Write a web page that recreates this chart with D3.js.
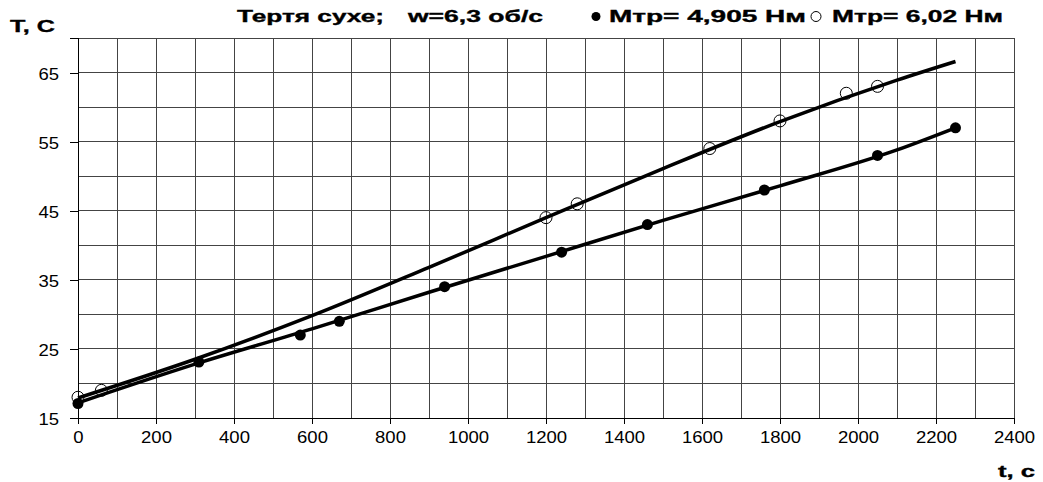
<!DOCTYPE html>
<html><head><meta charset="utf-8">
<script src="https://cdn.jsdelivr.net/npm/d3@7"></script>
<style>body{margin:0;background:#fff;} svg{display:block;} text{font-family:"Liberation Sans",Arial,sans-serif;fill:#000;}</style>
</head><body><svg id="c" width="1043" height="482"></svg>
<script>
// data
const xTicks = [0,200,400,600,800,1000,1200,1400,1600,1800,2000,2200,2400];
const yTicks = [15,25,35,45,55,65];
// Mtr = 4.905 (filled)
const filledT = [0,310,570,670,940,1240,1460,1760,2050,2250];
const filledV = [17.1,23.1,27.0,29.0,34.0,39.0,43.0,48.0,53.0,57.0];
// Mtr = 6.02 (open)
const openT = [0,60,1200,1280,1620,1800,1970,2050];
const openV = [18.0,19.0,44.0,46.0,54.0,58.0,62.0,63.0];
// trend curves as drawn
const filledFitT = [0,300,600,900,1200,1500,1800,2100,2250];
const filledFitV = [17.2,22.8,27.9,33.2,38.4,43.6,48.6,53.8,57.0];
const openFitT = [0,300,600,900,1200,1500,1800,2100,2250];
const openFitV = [17.9,23.5,29.8,36.8,44.0,51.1,57.9,63.9,66.6];

const svg = d3.select("#c");
const x = d3.scaleLinear().domain([0,2400]).range([78,1014]);
const y = d3.scaleLinear().domain([15,70]).range([418,38]);

// grid
const g = svg.append("g").attr("shape-rendering","crispEdges");
g.selectAll(".vg").data(d3.range(0,2401,100)).join("line")
  .attr("x1",d=>x(d)).attr("x2",d=>x(d)).attr("y1",y(70)).attr("y2",y(15))
  .attr("stroke","#444").attr("stroke-width",1);
g.selectAll(".hg").data(d3.range(15,71,5)).join("line")
  .attr("x1",x(0)).attr("x2",x(2400)).attr("y1",d=>y(d)).attr("y2",d=>y(d))
  .attr("stroke","#444").attr("stroke-width",1);

const digitW = 10.3;
// axes
const xAxis = d3.axisBottom(x).tickValues(xTicks).tickSize(6).tickPadding(9).tickFormat(d3.format("d"));
const ax = svg.append("g").attr("transform",`translate(0,${y(15)})`).call(xAxis);
ax.attr("font-size",null).attr("font-family",null);
ax.select(".domain").attr("stroke","#000").attr("shape-rendering","crispEdges");
ax.selectAll(".tick line").attr("stroke","#000").attr("shape-rendering","crispEdges");
ax.selectAll("text").attr("font-size","17px").attr("dy",null).attr("y",25)
  .attr("textLength",function(){return this.textContent.length*digitW;}).attr("lengthAdjust","spacingAndGlyphs");

const yAxis = d3.axisLeft(y).tickValues(yTicks).tickSize(8).tickPadding(12);
const ay = svg.append("g").attr("transform",`translate(${x(0)},0)`).call(yAxis);
ay.attr("font-size",null).attr("font-family",null);
ay.select(".domain").attr("stroke","#000").attr("shape-rendering","crispEdges");
ay.selectAll(".tick line").attr("stroke","#000").attr("shape-rendering","crispEdges");
ay.selectAll("text").attr("font-size","17px").attr("dy",null).attr("y",6.5).attr("x",-19)
  .attr("textLength",function(){return this.textContent.length*digitW;}).attr("lengthAdjust","spacingAndGlyphs");

// lines
const line = d3.line().x(d=>x(d[0])).y(d=>y(d[1])).curve(d3.curveMonotoneX);
svg.append("path").datum(d3.zip(filledFitT,filledFitV)).attr("d",line)
  .attr("fill","none").attr("stroke","#000").attr("stroke-width",3.5);
svg.append("path").datum(d3.zip(openFitT,openFitV)).attr("d",line)
  .attr("fill","none").attr("stroke","#000").attr("stroke-width",3.5);

// markers
svg.selectAll(".fp").data(d3.zip(filledT,filledV)).join("circle")
  .attr("cx",d=>x(d[0])).attr("cy",d=>y(d[1])).attr("r",5.5).attr("fill","#000");
svg.selectAll(".op").data(d3.zip(openT,openV)).join("circle")
  .attr("cx",d=>x(d[0])).attr("cy",d=>y(d[1])).attr("r",6).attr("fill","none")
  .attr("stroke","#000").attr("stroke-width",1);

// texts
function t(s,xx,yy,len,anchor){
  return svg.append("text").attr("x",xx).attr("y",yy).attr("text-anchor",anchor||"start")
    .attr("font-weight","bold").attr("font-size","16.5px")
    .attr("stroke","#000").attr("stroke-width",0.35)
    .attr("textLength",len).attr("lengthAdjust","spacingAndGlyphs").text(s);
}
t("Т,  С",10,32,45);
t("Тертя сухе;",237,22,147);
t("w=6,3 об/с",408,22,135);
svg.append("circle").attr("cx",596).attr("cy",16.5).attr("r",4.5).attr("fill","#000");
t("Мтр= 4,905 Нм",609,22,197);
svg.append("circle").attr("cx",816).attr("cy",16.5).attr("r",5).attr("fill","none").attr("stroke","#000").attr("stroke-width",1);
t("Мтр= 6,02 Нм",832,22,171);
t("t, с",998,477,37);
</script></body></html>
